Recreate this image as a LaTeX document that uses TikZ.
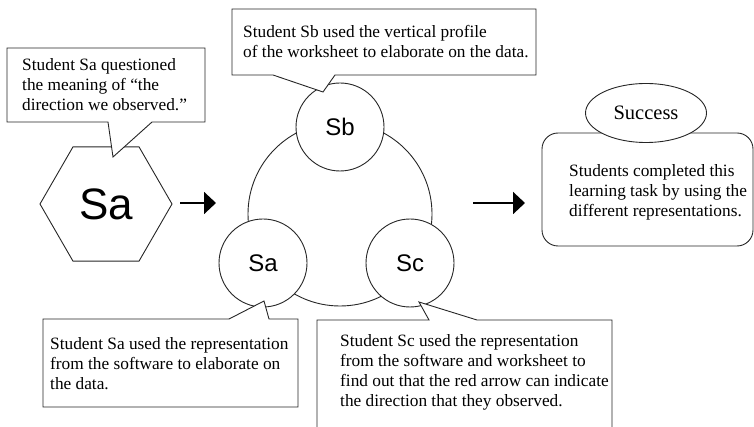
\documentclass[tikz,border=0pt]{standalone}
\usepackage{fontspec}
\setmainfont{Liberation Serif}
\newfontfamily\labelsans{Liberation Sans}
\usetikzlibrary{arrows.meta,shapes.geometric}
\begin{document}
\begin{tikzpicture}[x=1pt,y=-1pt,
  line/.style={draw=black!85, line width=0.9pt},
  note/.style={line, fill=white, line join=miter},
  notetext/.style={anchor=north west, inner sep=0pt, align=left,
    font=\fontsize{17.3}{20}\selectfont},
  member/.style={circle, line, fill=white, minimum size=88pt, inner sep=0pt,
    font=\labelsans\fontsize{24}{28}\selectfont},
  flow/.style={line width=2pt, -{Triangle[length=12pt,width=22pt]}}
]
\useasboundingbox (0,0) rectangle (754,427);
\clip (0,0) rectangle (754,427);

% the questioning student
\node[regular polygon, regular polygon sides=6, minimum size=132pt, inner sep=0pt,
  line, font=\labelsans\fontsize{44}{50}\selectfont] (hex) at (106,204) {Sa};

% the group of three students
\node[circle, line, minimum size=184pt, inner sep=0pt] (ring) at (340,214) {};
\node[member] (sb) at (340,127) {Sb};
\node[member] (sa) at (263,263) {Sa};
\node[member] (sc) at (410,263) {Sc};

% callout pointer tips
\coordinate (tipq) at (113,157);
\coordinate (tipb) at (323,92);
\coordinate (tipa) at (264,301);
\coordinate (tipc) at (419,302);

% callouts
\path[note] (7,48) -- (205,48) -- (205,122) -- (152,122) -- (tipq) -- (108,122) -- (7,122) -- cycle;
\node[notetext] (q1) at (22,58) {Student Sa questioned\\the meaning of ``the\\direction we observed.''};

\path[note] (232,9) -- (536,9) -- (536,75) -- (335,75) -- (tipb) -- (273,75) -- (232,75) -- cycle;
\node[notetext] (nb) at (243,25) {Student Sb used the vertical profile\\of the worksheet to elaborate on the data.};

\path[note] (43,319) -- (229,319) -- (tipa) -- (269,319) -- (298,319) -- (298,407) -- (43,407) -- cycle;
\node[notetext] (na) at (50,337) {Student Sa used the representation\\from the software to elaborate on\\the data.};

\path[note] (317,320) -- (429,320) -- (tipc) -- (477,320) -- (612,320) -- (612,440) -- (317,440) -- cycle;
\node[notetext] (nc) at (340,334) {Student Sc used the representation\\from the software and worksheet to\\find out that the red arrow can indicate\\the direction that they observed.};

% outcome
\draw[line, rounded corners=16pt] (542,133) rectangle (753,246);
\node[notetext] (done) at (569,164) {Students completed this\\learning task by using the\\different representations.};
\node[ellipse, line, fill=white, minimum width=121pt, minimum height=59pt, inner sep=0pt,
  font=\fontsize{20.5}{24}\selectfont] (succ) at (646,113) {Success};

% flow arrows
\coordinate (f1a) at (180,203);
\coordinate (f1b) at (216,203);
\coordinate (f2a) at (473,203);
\coordinate (f2b) at (525,203);
\draw[flow] (f1a) -- (f1b);
\draw[flow] (f2a) -- (f2b);
\end{tikzpicture}
\end{document}
